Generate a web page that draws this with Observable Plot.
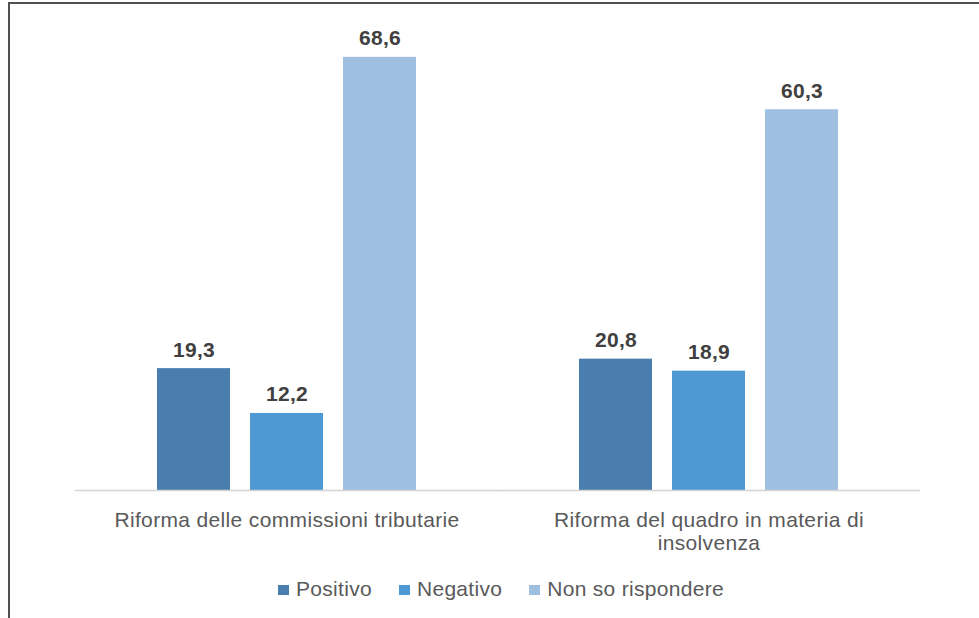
<!DOCTYPE html>
<html>
<head>
<meta charset="utf-8">
<script src="https://cdn.jsdelivr.net/npm/d3@7"></script>
<script src="https://cdn.jsdelivr.net/npm/@observablehq/plot@0.6"></script>
<style>
  html, body { margin: 0; padding: 0; background: #ffffff; }
  body { font-family: "Liberation Sans", Arial, sans-serif; }
  #wrap { position: relative; width: 979px; height: 618px; overflow: hidden; }
  #frame { position: absolute; left: 8px; top: 2px; width: 1000px; height: 640px;
           border-top: 2px solid #505050; border-left: 2px solid #505050; }
  #chart { position: absolute; left: 0; top: 0; }
  #legend { position: absolute; top: 578px; left: 278px; display: flex; align-items: center;
            font-size: 21px; line-height: 21px; letter-spacing: 0.3px; color: #595959; white-space: nowrap; }
  .item { display: flex; align-items: center; margin-right: 27px; }
  .sw { width: 11px; height: 10px; margin-right: 7px; position: relative; top: 1px; }
</style>
</head>
<body>
<div id="wrap">
  <div id="frame"></div>
  <div id="chart"></div>
  <div id="legend"></div>
</div>
<script>
// ---- data ----
const categories = ["Riforma delle commissioni tributarie", "Riforma del quadro in materia di insolvenza"];
const categoryLabels = ["Riforma delle commissioni tributarie", "Riforma del quadro in materia di\ninsolvenza"];
const series = ["Positivo", "Negativo", "Non so rispondere"];
const positivo = [19.3, 20.8];
const negativo = [12.2, 18.9];
const nonSo = [68.6, 60.3];
const colors = ["#4a7eae", "#4e98d3", "#9ebfdf"];

// ---- build table ----
const valuesBySeries = [positivo, negativo, nonSo];
const data = [];
categories.forEach((c, i) => {
  series.forEach((s, j) => data.push({category: c, series: s, value: valuesBySeries[j][i]}));
});
const catRows = categories.map((c, i) => ({category: c, label: categoryLabels[i], zero: 0}));
const fmt = d => d.value.toFixed(1).replace(".", ",");

const plot = Plot.plot({
  width: 979,
  height: 560,
  marginLeft: 76,
  marginRight: 59,
  marginTop: 48,
  marginBottom: 70,
  style: {fontFamily: '"Liberation Sans", Arial, sans-serif', background: "transparent", overflow: "visible"},
  fx: {domain: categories, paddingInner: 0.3815, paddingOuter: 0.19, axis: null, label: null},
  x: {domain: series, paddingInner: 0.22, paddingOuter: 0, axis: null, label: null},
  y: {domain: [0, 70], axis: null, label: null},
  color: {domain: series, range: colors},
  marks: [
    Plot.barY(data, {fx: "category", x: "series", y: "value", fill: "series"}),
    Plot.ruleY(catRows, {fx: "category", y: "zero", stroke: "#d4d4d4", strokeWidth: 1.5, insetLeft: -81, insetRight: -81}),
    Plot.text(data, {fx: "category", x: "series", y: "value", text: fmt, lineAnchor: "bottom", dy: -12,
                     fontSize: 21, fontWeight: "bold", fill: "#404040"}),
    Plot.text(catRows, {fx: "category", y: "zero", text: "label", lineAnchor: "top", dy: 20,
                        fontSize: 21, lineHeight: 1.11, fill: "#595959"})
  ]
});
document.getElementById("chart").appendChild(plot);

// letter spacing on the text marks (to match the wider reference lettering)
const textGroups = d3.select(plot).selectAll('g[aria-label="text"]').nodes();
if (textGroups[0]) textGroups[0].style.letterSpacing = "0.3px";
if (textGroups[1]) textGroups[1].style.letterSpacing = "0.35px";

// ---- legend (below chart), using the plot's color scale ----
const color = plot.scale("color");
const legend = d3.select("#legend");
color.domain.forEach((s, i) => {
  const item = legend.append("div").attr("class", "item");
  item.append("div").attr("class", "sw").style("background", color.range[i]);
  item.append("span").text(s);
});
</script>
</body>
</html>
